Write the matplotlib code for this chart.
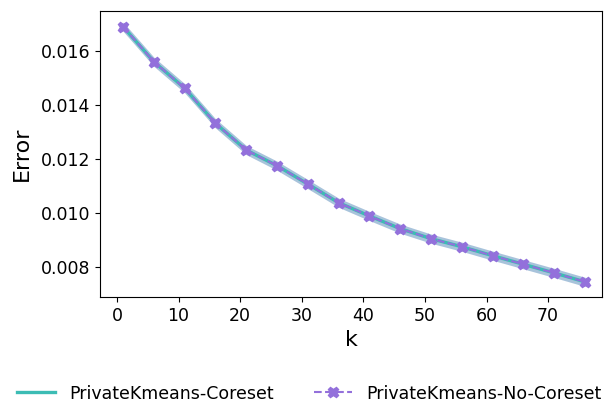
import matplotlib
matplotlib.use("Agg")
import matplotlib.pyplot as plt
import numpy as np

k_values = [1, 6, 11, 16, 21, 26, 31, 36, 41, 46, 51, 56, 61, 66, 71, 76]
coreset_error = [0.01690, 0.01560, 0.01462, 0.01332, 0.01233, 0.01175, 0.01107, 0.01038,
                 0.00989, 0.00942, 0.00905, 0.00875, 0.00842, 0.00810, 0.00778, 0.00745]
no_coreset_error = [0.01690, 0.01560, 0.01462, 0.01332, 0.01233, 0.01175, 0.01107, 0.01038,
                    0.00989, 0.00942, 0.00905, 0.00875, 0.00842, 0.00810, 0.00778, 0.00745]
band_halfwidth = [0.00017] * len(k_values)

W, H = 604, 404
fig = plt.figure(figsize=(W / 100, H / 100), dpi=100)
ax = fig.add_axes([100 / W, (H - 297) / H, 502 / W, 286 / H])

x = np.array(k_values)
c = np.array(coreset_error)
n = np.array(no_coreset_error)
b = np.array(band_halfwidth)

ax.fill_between(x, c - b, c + b, color="#6f9cc4", alpha=0.6, linewidth=0)
ax.plot(x, c, color="#3cbcb4", linewidth=2.4, label="PrivateKmeans-Coreset")
ax.plot(x, n, color="#9370db", linestyle="--", linewidth=1.5, marker="X",
        markersize=7.5, label="PrivateKmeans-No-Coreset")

ax.set_xlim(-2.75, 78.75)
ax.set_ylim(0.00689, 0.01748)
ax.set_yticks([0.008, 0.010, 0.012, 0.014, 0.016])
ax.set_xticks([0, 10, 20, 30, 40, 50, 60, 70])
ax.tick_params(labelsize=12.5)
ax.set_xlabel("k", fontsize=16)
ax.set_ylabel("Error", fontsize=16, labelpad=6)

fig.legend(loc="lower center", bbox_to_anchor=(0.512, -0.035), ncol=2, frameon=False,
           fontsize=12.5, columnspacing=2.3, handlelength=2.2)

fig.savefig("out.png", dpi=100)
